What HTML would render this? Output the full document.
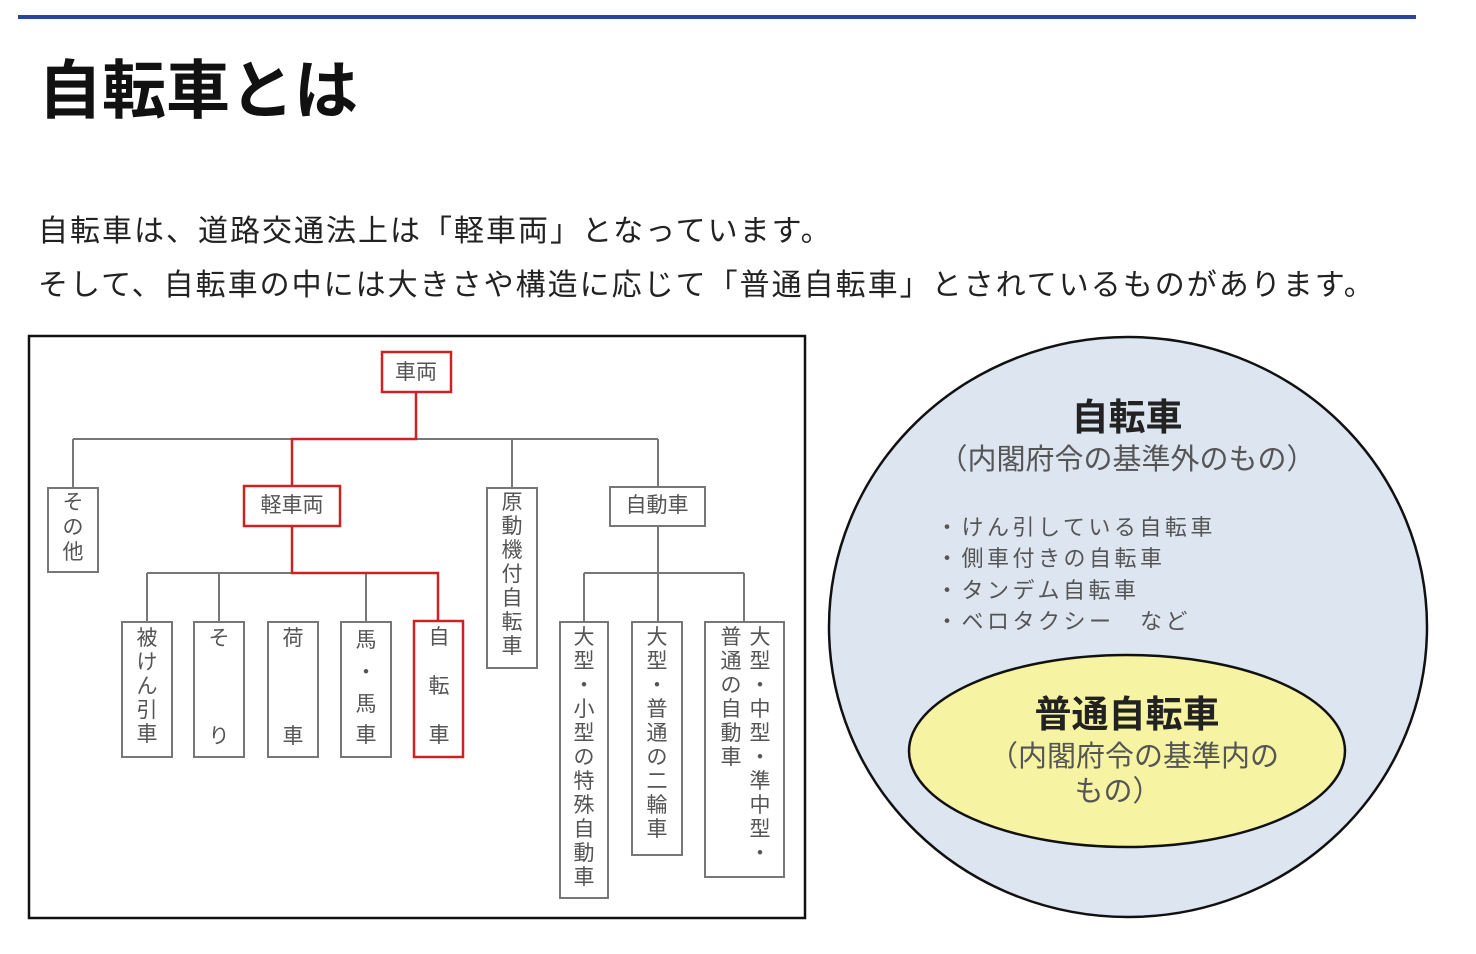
<!DOCTYPE html>
<html><head><meta charset="utf-8">
<style>
html,body{margin:0;padding:0;background:#fff;}
body{width:1476px;height:954px;overflow:hidden;position:relative;font-family:"Liberation Sans","Noto Sans CJK JP",sans-serif;}
.bar{position:absolute;left:18px;top:15px;width:1398px;height:4px;background:#24479a;}
h1{position:absolute;left:38px;top:53px;margin:0;font-size:64px;font-weight:bold;color:#111;line-height:76px;letter-spacing:0px;}
p{position:absolute;left:38px;margin:0;font-size:30px;color:#222;line-height:40px;letter-spacing:2px;white-space:nowrap;}
svg{position:absolute;left:0;top:0;}
</style></head><body>
<div class="bar"></div>
<h1>自転車とは</h1>
<p style="top:212px">自転車は、道路交通法上は「軽車両」となっています。</p>
<p style="top:266px">そして、自転車の中には大きさや構造に応じて「普通自転車」とされているものがあります。</p>
<svg width="1476" height="954" xmlns="http://www.w3.org/2000/svg" font-family="'Liberation Sans','Noto Sans CJK JP',sans-serif">
<rect x="29" y="336" width="776" height="582" fill="#fff" stroke="#111" stroke-width="2.5"/>
<g stroke="#777" stroke-width="2" fill="none">
<line x1="73" y1="439" x2="658" y2="439"/>
<line x1="73" y1="439" x2="73" y2="488"/>
<line x1="512" y1="439" x2="512" y2="488"/>
<line x1="658" y1="439" x2="658" y2="487"/>
<line x1="147" y1="573" x2="438" y2="573"/>
<line x1="147" y1="573" x2="147" y2="622"/>
<line x1="219" y1="573" x2="219" y2="622"/>
<line x1="366" y1="573" x2="366" y2="622"/>
<line x1="658" y1="526" x2="658" y2="622"/>
<line x1="584" y1="573" x2="744" y2="573"/>
<line x1="584" y1="573" x2="584" y2="622"/>
<line x1="744" y1="573" x2="744" y2="622"/>
<rect x="48" y="488" width="50" height="84"/>
<rect x="487" y="488" width="50" height="180"/>
<rect x="610" y="487" width="95" height="39"/>
<rect x="122" y="622" width="50" height="135"/>
<rect x="194" y="622" width="50" height="135"/>
<rect x="268" y="622" width="50" height="135"/>
<rect x="341" y="622" width="50" height="135"/>
<rect x="560" y="622" width="48" height="276"/>
<rect x="632" y="622" width="50" height="233"/>
<rect x="705" y="622" width="79" height="255"/>
</g>
<g stroke="#cc2222" stroke-width="2.5" fill="none">
<polyline points="416,392 416,439 292,439 292,486"/>
<polyline points="292,526 292,573 438,573 438,621"/>
<rect x="382" y="352" width="69" height="40"/>
<rect x="244" y="486" width="96" height="40"/>
<rect x="414" y="621" width="49" height="136"/>
</g>
<g font-size="21" fill="#555" text-anchor="middle">
<text x="416" y="379">車両</text>
<text x="292" y="512">軽車両</text>
<text x="657" y="512">自動車</text>
<text x="73" y="509">そ</text><text x="73" y="534">の</text><text x="73" y="559">他</text>
<text x="512" y="509">原</text><text x="512" y="533">動</text><text x="512" y="557">機</text><text x="512" y="581">付</text><text x="512" y="605">自</text><text x="512" y="629">転</text><text x="512" y="653">車</text>
<text x="147" y="645">被</text><text x="147" y="669">け</text><text x="147" y="693">ん</text><text x="147" y="717">引</text><text x="147" y="741">車</text>
<text x="219" y="645">そ</text><text x="219" y="743">り</text>
<text x="293" y="645">荷</text><text x="293" y="743">車</text>
<text x="366" y="647">馬</text><text x="366" y="679">・</text><text x="366" y="711">馬</text><text x="366" y="742">車</text>
<text x="439" y="644">自</text><text x="439" y="693">転</text><text x="439" y="742">車</text>
<text x="584" y="644">大</text><text x="584" y="668">型</text><text x="584" y="692">・</text><text x="584" y="716">小</text><text x="584" y="740">型</text><text x="584" y="764">の</text><text x="584" y="788">特</text><text x="584" y="812">殊</text><text x="584" y="836">自</text><text x="584" y="860">動</text><text x="584" y="884">車</text>
<text x="657" y="644">大</text><text x="657" y="668">型</text><text x="657" y="692">・</text><text x="657" y="716">普</text><text x="657" y="740">通</text><text x="657" y="764">の</text><text x="657" y="788">二</text><text x="657" y="812">輪</text><text x="657" y="836">車</text>
<text x="760" y="644">大</text><text x="760" y="668">型</text><text x="760" y="692">・</text><text x="760" y="716">中</text><text x="760" y="740">型</text><text x="760" y="764">・</text><text x="760" y="788">準</text><text x="760" y="812">中</text><text x="760" y="836">型</text><text x="760" y="860">・</text>
<text x="731" y="644">普</text><text x="731" y="668">通</text><text x="731" y="692">の</text><text x="731" y="716">自</text><text x="731" y="740">動</text><text x="731" y="764">車</text>
</g>
<ellipse cx="1128" cy="627" rx="299" ry="290" fill="#dde5f1" stroke="#111" stroke-width="2.5"/>
<ellipse cx="1127" cy="751" rx="218" ry="96" fill="#f6f3a2" stroke="#111" stroke-width="2.5"/>
<g text-anchor="middle">
<text x="1127" y="430" font-size="37" font-weight="bold" fill="#222">自転車</text>
<text x="1127" y="469" font-size="29" fill="#555">（内閣府令の基準外のもの）</text>
<text x="1127" y="727" font-size="37" font-weight="bold" fill="#222">普通自転車</text>
<text x="1134" y="766" font-size="29" fill="#555">（内閣府令の基準内の</text>
<text x="1118" y="801" font-size="29" fill="#555">もの）</text>
</g>
<g font-size="22" fill="#555" letter-spacing="3.5">
<text x="936" y="535">・けん引している自転車</text>
<text x="936" y="566">・側車付きの自転車</text>
<text x="936" y="598">・タンデム自転車</text>
<text x="936" y="629">・ベロタクシー　など</text>
</g>
</svg>
</body></html>
